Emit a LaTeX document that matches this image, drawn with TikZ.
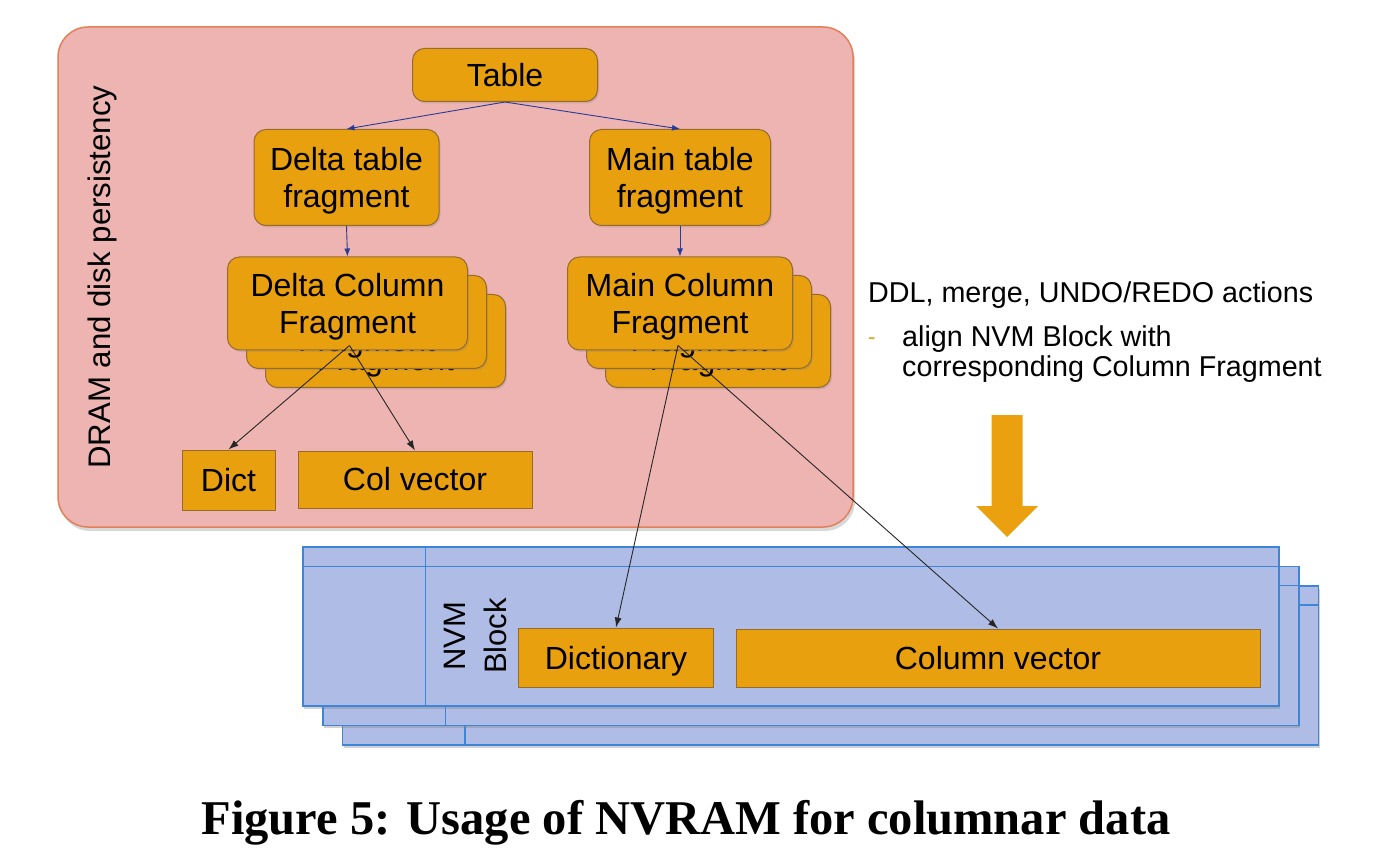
\documentclass[tikz,border=0pt]{standalone}
\usepackage{fontspec}
\setmainfont{Liberation Sans}
\newfontfamily\capfont{Liberation Serif}
\usetikzlibrary{shadows,calc,arrows.meta}

\definecolor{boxorange}{RGB}{233,160,14}
\definecolor{boxedge}{RGB}{150,108,45}
\definecolor{pinkfill}{RGB}{237,180,178}
\definecolor{pinkedge}{RGB}{226,128,90}
\definecolor{nvmfill}{RGB}{175,189,230}
\definecolor{nvmedge}{RGB}{61,133,214}
\definecolor{arrblue}{RGB}{40,60,150}
\definecolor{bigarrow}{RGB}{235,160,16}

\newcommand\mystrut{\rule{0pt}{30pt}}

\begin{document}
\begin{tikzpicture}[x=1pt,y=-1pt,
  nodefont/.style={font=\fontsize{32}{36.5}\selectfont},
  obox/.style={draw=boxedge, fill=boxorange, line width=1pt, rounded corners=12pt,
    inner sep=0pt, align=center, nodefont,
    drop shadow={shadow xshift=1.5pt, shadow yshift=-2pt, opacity=0.25}},
  sbox/.style={draw=boxedge, fill=boxorange, line width=1pt, inner sep=0pt, nodefont},
  colfrag/.style={obox, minimum height=93pt},
  nvmbox/.style={draw=nvmedge, fill=nvmfill, line width=1.4pt, inner sep=0pt,
    minimum width=976pt, minimum height=159pt,
    drop shadow={shadow xshift=1pt, shadow yshift=-2.5pt, opacity=0.35}},
  nvmline/.style={draw=nvmedge, line width=1.4pt},
  blink/.style={draw=arrblue, line width=0.9pt, -{Latex[length=8pt,width=6pt]}},
  klink/.style={draw=black!85, line width=0.9pt, -{Latex[length=10pt,width=7pt]}},
]
\useasboundingbox (0,0) rectangle (1392,858);
\fill[white] (0,0) rectangle (1392,858);

% DRAM container
\node[draw=pinkedge, fill=pinkfill, line width=1.5pt, rounded corners=30pt,
  minimum width=795pt, minimum height=500pt, inner sep=0pt,
  drop shadow={shadow xshift=2pt, shadow yshift=-4pt, opacity=0.3}] (dram) at (455.5,277) {};
\node[rotate=90, anchor=base, inner sep=0pt, font=\fontsize{31.2}{36}\selectfont] (dramlab) at (110,277) {DRAM and disk persistency};

% tree
\node[obox, minimum width=185pt, minimum height=53pt] (table) at (505,75) {Table};
\node[obox, minimum width=185pt, minimum height=96pt] (dtf) at (346.5,177.5) {\mystrut Delta table\\fragment};
\node[obox, minimum width=181pt, minimum height=96pt] (mtf) at (680,177.5) {\mystrut Main table\\fragment};

% delta column fragment stack
\node[colfrag, minimum width=240pt] (dcf3) at (385.5,341) {\mystrut Delta Column\\Fragment};
\node[colfrag, minimum width=240pt] (dcf2) at (366.5,322) {\mystrut Delta Column\\Fragment};
\node[colfrag, minimum width=240pt] (dcf1) at (347.5,303.5) {\mystrut Delta Column\\Fragment};

% main column fragment stack
\node[colfrag, minimum width=225pt] (mcf3) at (718,341) {\mystrut Main Column\\Fragment};
\node[colfrag, minimum width=225pt] (mcf2) at (699,322) {\mystrut Main Column\\Fragment};
\node[colfrag, minimum width=225pt] (mcf1) at (680,303.5) {\mystrut Main Column\\Fragment};

\node[sbox, minimum width=93pt, minimum height=60pt] (dict) at (228.5,480) {Dict};
\node[sbox, minimum width=234pt, minimum height=57pt] (colvec) at (415,479.5) {Col vector};

\draw[blink] (table.south) -- (dtf.north);
\draw[blink] (table.south) -- (mtf.north);
\draw[blink] (dtf.south) -- (dcf1.north);
\draw[blink] (mtf.south) -- (mcf1.north);

% right-hand text
\node[anchor=base west, inner sep=0pt, font=\fontsize{28.7}{30}\selectfont] (ddl) at (868,303) {DDL, merge, UNDO/REDO actions};
\node[anchor=base west, inner sep=0pt, text=bigarrow, font=\fontsize{22}{24}\selectfont] (dash) at (868,345) {-};
\node[anchor=north west, inner sep=0pt, align=left, font=\fontsize{28.7}{29.5}\selectfont] (align) at (902,326) {align NVM Block with\\corresponding Column Fragment};

% big arrow
\coordinate (aTop) at (1007,415);
\coordinate (aTip) at (1007,537);
\fill[bigarrow] ($(aTop)+(-15.5,0)$) -- ($(aTop)+(15.5,0)$) -- ($(aTip)+(15.5,-31)$)
  -- ($(aTip)+(31,-31)$) -- (aTip) -- ($(aTip)+(-31,-31)$) -- ($(aTip)+(-15.5,-31)$) -- cycle;

% NVM block stack
\node[nvmbox] (nvm3) at (830.5,665.5) {};
\draw[nvmline] ($(nvm3.north west)+(0,19.5)$) -- ($(nvm3.north east)+(0,19.5)$);
\draw[nvmline] ($(nvm3.north west)+(123,0)$) -- ($(nvm3.south west)+(123,0)$);
\node[nvmbox] (nvm2) at (811,646) {};
\draw[nvmline] ($(nvm2.north west)+(0,19.5)$) -- ($(nvm2.north east)+(0,19.5)$);
\draw[nvmline] ($(nvm2.north west)+(123,0)$) -- ($(nvm2.south west)+(123,0)$);
\node[nvmbox] (nvm1) at (791,626.5) {};
\draw[nvmline] ($(nvm1.north west)+(0,20)$) -- ($(nvm1.north east)+(0,20)$);
\draw[nvmline] ($(nvm1.north west)+(123,0)$) -- ($(nvm1.south west)+(123,0)$);

\node[rotate=90, align=center, inner sep=0pt, font=\fontsize{31}{41}\selectfont] (nvmlab) at (475,636) {NVM\\Block};
\node[sbox, minimum width=195pt, minimum height=59pt, text depth=0pt] (dictionary) at (616,657.5) {Dictionary};
\node[sbox, minimum width=524pt, minimum height=58pt] (colvector) at (998,658) {Column vector};

% black connectors
\coordinate (dsrc) at ($(dcf1.south)+(2,-5)$);
\coordinate (msrc) at ($(mcf1.south)+(-2,-5)$);
\draw[klink] (dsrc) -- (dict.north);
\draw[klink] (dsrc) -- (colvec.north);
\draw[klink] (msrc) -- (dictionary.north);
\draw[klink] (msrc) -- (colvector.north);

% caption
\node[anchor=base, inner sep=0pt, font=\capfont\bfseries\fontsize{48.5}{55}\selectfont] (caption) at (686,834) {Figure 5: Usage of NVRAM for columnar data};
\end{tikzpicture}
\end{document}
